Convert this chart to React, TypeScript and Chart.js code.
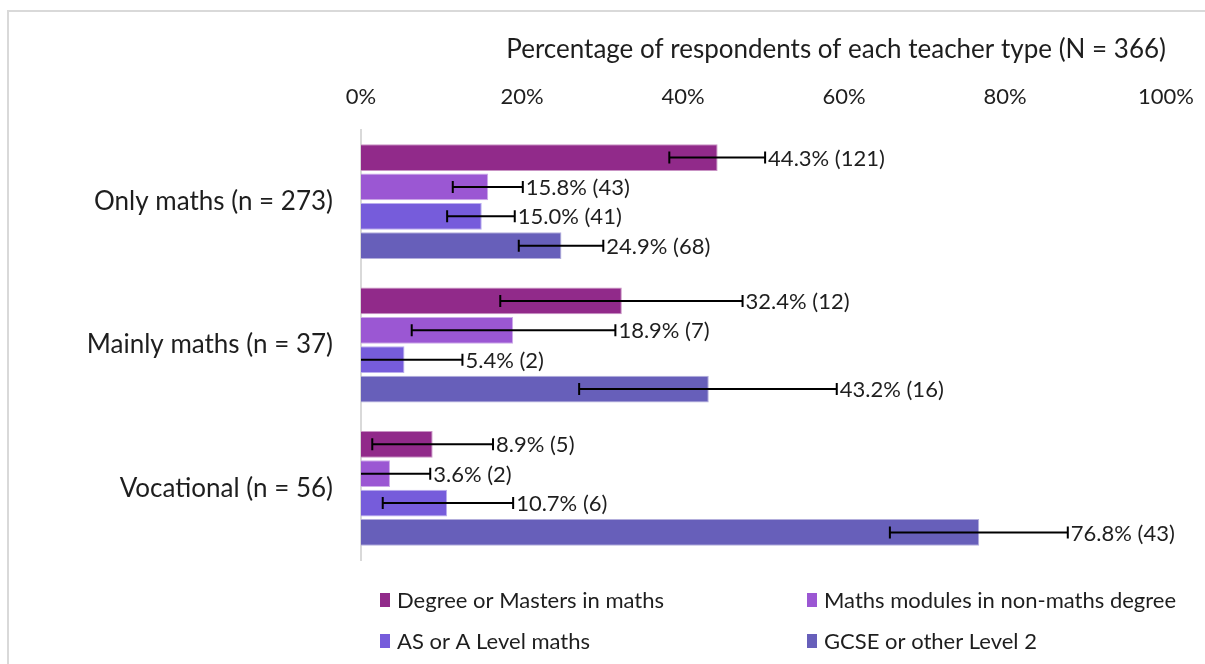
import React, { useEffect, useRef } from "react";
import { Chart, registerables } from "chart.js";

Chart.register(...registerables);

const categories = ["Only maths (n = 273)", "Mainly maths (n = 37)", "Vocational (n = 56)"];
const seriesNames = [
  "Degree or Masters in maths",
  "Maths modules in non-maths degree",
  "AS or A Level maths",
  "GCSE or other Level 2",
];
const seriesColors = ["#912A8A", "#9B57D3", "#765CDB", "#675FBA"];
const seriesBorders = ["#C993C4", "#CDABE9", "#BAADEE", "#B3AEDC"];

const degreeValues = [44.3, 32.4, 8.9];
const modulesValues = [15.8, 18.9, 3.6];
const asLevelValues = [15.0, 5.4, 10.7];
const gcseValues = [24.9, 43.2, 76.8];

const degreeCounts = [121, 12, 5];
const modulesCounts = [43, 7, 2];
const asLevelCounts = [41, 2, 6];
const gcseCounts = [68, 16, 43];

const degreeLow = [38.3, 17.3, 1.4];
const degreeHigh = [50.2, 47.4, 16.4];
const modulesLow = [11.4, 6.3, 0.0];
const modulesHigh = [20.1, 31.6, 8.6];
const asLevelLow = [10.7, 0.0, 2.7];
const asLevelHigh = [19.1, 12.6, 18.9];
const gcseLow = [19.6, 27.1, 65.7];
const gcseHigh = [30.1, 59.1, 87.8];

const xTicks = [0, 20, 40, 60, 80, 100];
const axisTitle = "Percentage of respondents of each teacher type (N = 366)";

const allValues = [degreeValues, modulesValues, asLevelValues, gcseValues];
const allCounts = [degreeCounts, modulesCounts, asLevelCounts, gcseCounts];
const allLow = [degreeLow, modulesLow, asLevelLow, gcseLow];
const allHigh = [degreeHigh, modulesHigh, asLevelHigh, gcseHigh];

const FONT = "Lato";
const TEXT = "#1e1e1e";

const frameAndLegendPlugin = {
  id: "frameAndLegend",
  beforeDraw(chart: any) {
    const ctx = chart.ctx;
    ctx.save();
    ctx.fillStyle = "#ffffff";
    ctx.fillRect(0, 0, chart.width, chart.height);
    ctx.strokeStyle = "#d9d9d9";
    ctx.lineWidth = 2;
    ctx.beginPath();
    ctx.moveTo(8, chart.height);
    ctx.lineTo(8, 11);
    ctx.lineTo(chart.width, 11);
    ctx.stroke();
    ctx.restore();
  },
  afterDraw(chart: any) {
    const ctx = chart.ctx;
    ctx.save();
    ctx.font = `22px ${FONT}`;
    ctx.textBaseline = "middle";
    ctx.textAlign = "left";
    const cols = [380, 807];
    const rows = [600, 641];
    chart.data.datasets.forEach((ds: any, i: number) => {
      const x = cols[i % 2];
      const y = rows[Math.floor(i / 2)];
      ctx.fillStyle = ds.backgroundColor;
      ctx.fillRect(x, y - 7, 10, 14);
      ctx.fillStyle = TEXT;
      ctx.fillText(ds.label, x + 17, y + 1);
    });
    ctx.restore();
  },
};

const errorBarsPlugin = {
  id: "errorBars",
  afterDatasetsDraw(chart: any) {
    const ctx = chart.ctx;
    const xs = chart.scales.x;
    ctx.save();
    chart.data.datasets.forEach((ds: any, i: number) => {
      const meta = chart.getDatasetMeta(i);
      meta.data.forEach((bar: any, j: number) => {
        const y = bar.y;
        const lo = allLow[i][j];
        const hi = allHigh[i][j];
        const x1 = xs.getPixelForValue(lo);
        const x2 = xs.getPixelForValue(hi);
        ctx.strokeStyle = "#000000";
        ctx.lineWidth = 2;
        ctx.beginPath();
        ctx.moveTo(x1, y);
        ctx.lineTo(x2, y);
        if (lo > 0) {
          ctx.moveTo(x1, y - 6);
          ctx.lineTo(x1, y + 6);
        }
        ctx.moveTo(x2, y - 6);
        ctx.lineTo(x2, y + 6);
        ctx.stroke();
        ctx.fillStyle = TEXT;
        ctx.font = `22px ${FONT}`;
        ctx.textBaseline = "middle";
        ctx.textAlign = "left";
        const label = `${allValues[i][j].toFixed(1)}% (${allCounts[i][j]})`;
        ctx.fillText(label, x2 + 3, y + 1);
      });
    });
    ctx.restore();
  },
};

export default function App() {
  const canvasRef = useRef<HTMLCanvasElement | null>(null);

  useEffect(() => {
    document.body.style.margin = "0";
    const canvas = canvasRef.current;
    if (!canvas) return;
    Chart.defaults.font.family = FONT;
    const chart = new Chart(canvas, {
      type: "bar",
      data: {
        labels: categories,
        datasets: seriesNames.map((name, i) => ({
          label: name,
          data: allValues[i],
          backgroundColor: seriesColors[i],
          borderColor: seriesBorders[i],
          borderWidth: 1,
          categoryPercentage: 0.82,
          barPercentage: 0.91,
        })),
      },
      options: {
        indexAxis: "y",
        responsive: false,
        animation: false,
        events: [],
        layout: { padding: { left: 7, top: 30, right: 39, bottom: 104 } },
        plugins: {
          legend: { display: false },
          tooltip: { enabled: false },
          title: { display: false },
        },
        scales: {
          x: {
            position: "top",
            min: 0,
            max: 100,
            afterBuildTicks: (scale: any) => {
              scale.ticks = xTicks.map((v) => ({ value: v }));
            },
            ticks: {
              callback: (v: any) => `${v}%`,
              font: { size: 22, family: FONT },
              color: TEXT,
              padding: 20,
              maxRotation: 0,
            },
            grid: { display: false, drawTicks: false },
            border: { display: false },
            title: {
              display: true,
              text: axisTitle,
              align: "end",
              color: TEXT,
              font: { size: 26, family: FONT },
              padding: { top: 4, bottom: 0 },
            },
            afterFit: (scale: any) => {
              scale.height = 100;
              scale.paddingLeft = 0;
              scale.paddingRight = 0;
            },
          },
          y: {
            grid: { display: false, drawTicks: false },
            border: { display: true, color: "#d9d9d9", width: 2 },
            ticks: {
              font: { size: 26, family: FONT },
              color: TEXT,
              padding: 28,
            },
            afterFit: (scale: any) => {
              scale.width = 354;
            },
          },
        },
      } as any,
      plugins: [frameAndLegendPlugin, errorBarsPlugin],
    });
    return () => chart.destroy();
  }, []);

  return (
    <div style={{ position: "absolute", left: 0, top: 0, width: 1205, height: 664 }}>
      <canvas ref={canvasRef} width={1205} height={664} style={{ width: 1205, height: 664 }} />
    </div>
  );
}
